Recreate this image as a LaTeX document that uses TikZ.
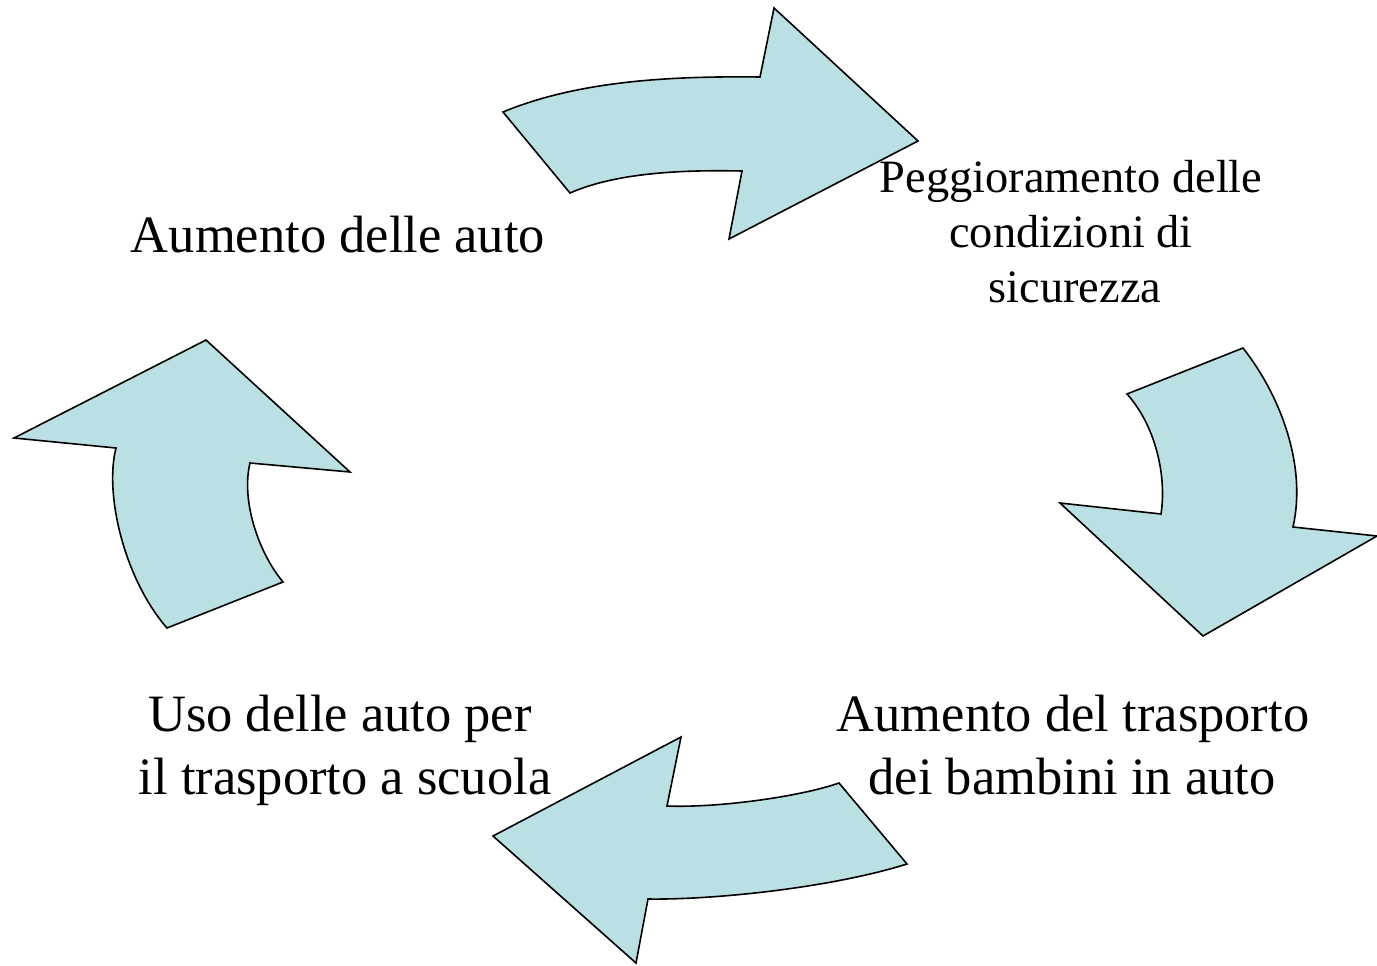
\documentclass[tikz,border=0pt]{standalone}
\usepackage{fontspec}
\setmainfont{Liberation Serif}
\definecolor{arrowfill}{RGB}{186,224,227}
\tikzset{
  bigarrow/.style={draw=black, fill=arrowfill, line width=1.6pt, line join=miter},
  lbl/.style={inner sep=0pt, anchor=base, font=\fontsize{52.5}{62}\selectfont},
  lblsmall/.style={inner sep=0pt, anchor=base, font=\fontsize{46.4}{55}\selectfont}
}
\begin{document}
\begin{tikzpicture}[x=1pt,y=-1pt]
\useasboundingbox (0,0) rectangle (1377,966);
% top arrow (right)
\path[bigarrow] (503,112) .. controls (580,80) and (675,76) .. (760,77)
  -- (774,8) -- (918,141) -- (729,239) -- (742,171)
  .. controls (692,170) and (620,171) .. (570,193) -- cycle;
% right arrow (down)
\path[bigarrow] (1127,394) -- (1243,348)
  .. controls (1280,395) and (1307,465) .. (1293,527)
  -- (1377,536) -- (1203,636) -- (1060,503) -- (1161,514)
  .. controls (1167,475) and (1155,425) .. (1127,394) -- cycle;
% bottom arrow (left)
\path[bigarrow] (839,783) -- (907,864)
  .. controls (827,889) and (708,900) .. (648,899)
  -- (636,963) -- (493,836) -- (681,737) -- (667,806)
  .. controls (717,808) and (799,797) .. (839,783) -- cycle;
% left arrow (up)
\path[bigarrow] (167,628) -- (283,582)
  .. controls (258,552) and (241,500) .. (250,463)
  -- (350,472) -- (206,340) -- (14,438) -- (116,448)
  .. controls (104,495) and (125,580) .. (167,628) -- cycle;
% labels
\node[lbl] (auto) at (338,252) {Aumento delle auto};
\node[lblsmall] (pegg1) at (1071,192) {Peggioramento delle};
\node[lblsmall] (pegg2) at (1071,247) {condizioni di};
\node[lblsmall] (pegg3) at (1075,302) {sicurezza};
\node[lbl] (trasp1) at (1073,731) {Aumento del trasporto};
\node[lbl] (trasp2) at (1072,794) {dei bambini in auto};
\node[lbl] (uso1) at (340,731) {Uso delle auto per};
\node[lbl] (uso2) at (345,794) {il trasporto a scuola};
\end{tikzpicture}
\end{document}
